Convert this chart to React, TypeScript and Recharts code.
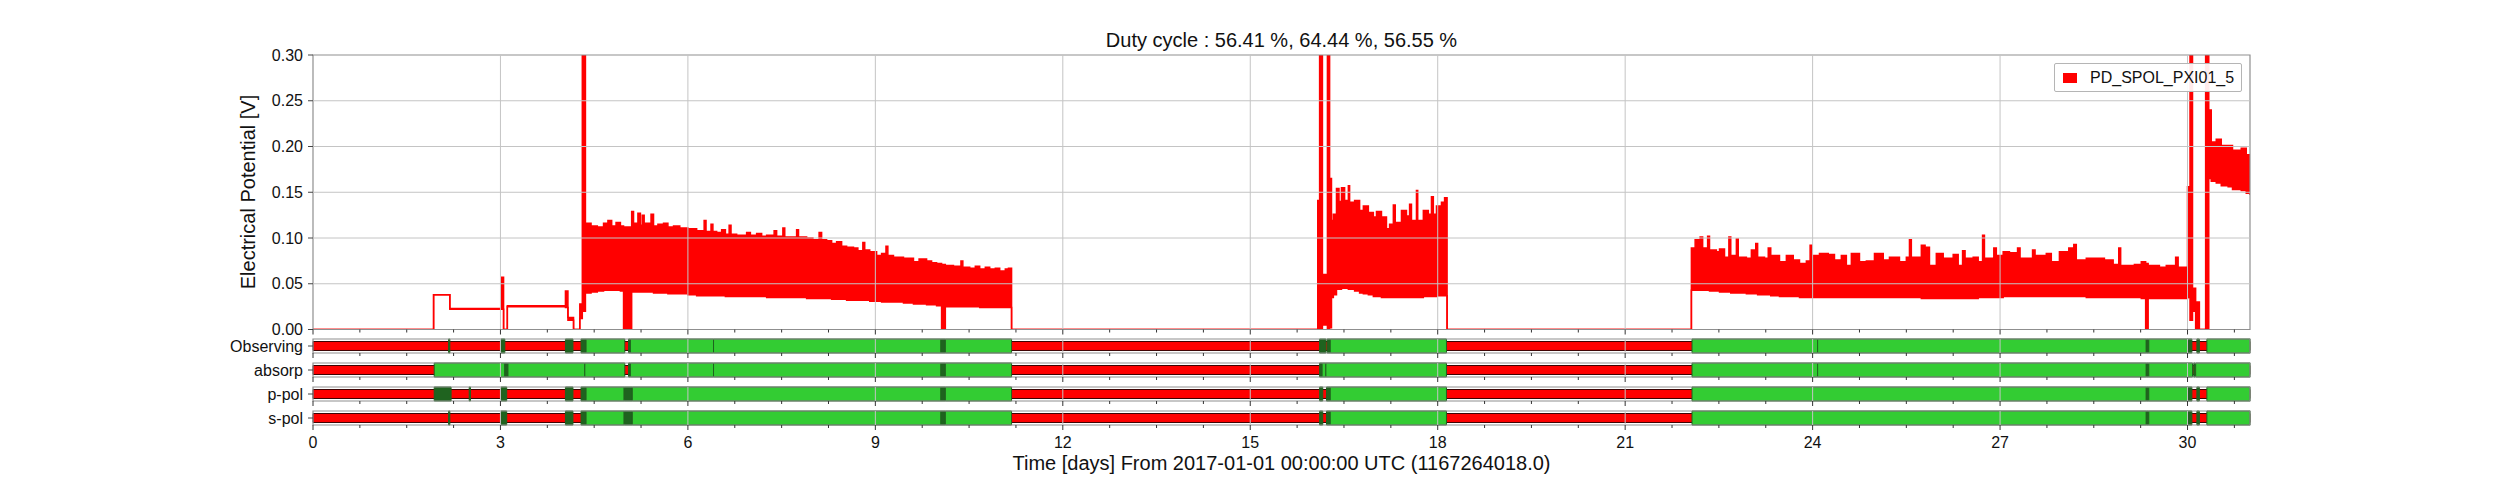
import React from "react";
import {
  Area,
  ComposedChart,
  Legend,
  Line,
  ReferenceArea,
  ReferenceLine,
  XAxis,
  YAxis,
} from "recharts";

// gwpy-style "channel + segment" summary plot: PD_SPOL_PXI01_5 over 31 days,
// with four data-quality flag rows underneath.

const FONT = '"Liberation Sans", Arial, Helvetica, sans-serif';
const RED = "#ff0000";
const GREEN = "#33cc33";
const DARK = "#1f631f";
const GRID = "#c4c4c4";
const FRAME = "#8f8f8f";

const CHANNEL = "PD_SPOL_PXI01_5";
const TITLE = "Duty cycle : 56.41 %, 64.44 %, 56.55 %";
const X_LABEL = "Time [days] From 2017-01-01 00:00:00 UTC (1167264018.0)";
const Y_LABEL = "Electrical Potential [V]";

const GRID_DAYS = [3, 6, 9, 12, 15, 18, 21, 24, 27, 30];
const V_TICKS = [0, 0.05, 0.1, 0.15, 0.2, 0.25, 0.3];
const GRID_V = [0.05, 0.1, 0.15, 0.2, 0.25];
// minor ticks every 0.75 day, major (labelled) every 3
const ALL_TICKS = Array.from({ length: 42 }, (_, i) => +(i * 0.75).toFixed(2));

// [day, low, high] — min/max envelope of the decimated signal (held until next point)
const PRE: [number, number, number][] = [
  [0, 0, 0],
  [1.93, 0.038, 0.038],
  [2.19, 0.022, 0.023],
  [3.02, 0.022, 0.057],
  [3.05, 0, 0],
  [3.11, 0.025, 0.026],
  [4.04, 0.024, 0.042],
  [4.08, 0.01, 0.013],
  [4.17, 0, 0],
  [4.27, 0.012, 0.028],
  [4.31, 0.02, 0.6],
];

const RUN1: [number, number, number][] = [
  [4.36, 0.04, 0.116], [4.45, 0.041, 0.113], [4.55, 0.042, 0.112], [4.65, 0.043, 0.116],
  [4.72, 0.043, 0.119], [4.78, 0.043, 0.113], [4.85, 0.043, 0.117], [4.92, 0.042, 0.113],
  [4.97, 0, 0.112], [5.1, 0.041, 0.129], [5.13, 0.041, 0.116], [5.2, 0.041, 0.127],
  [5.24, 0.041, 0.114], [5.27, 0.041, 0.125], [5.3, 0.041, 0.116], [5.41, 0.041, 0.126],
  [5.45, 0.04, 0.113], [5.52, 0.04, 0.115], [5.61, 0.04, 0.116], [5.68, 0.039, 0.112],
  [5.77, 0.039, 0.113], [5.87, 0.039, 0.111], [6.0, 0.038, 0.11], [6.14, 0.037, 0.108],
  [6.26, 0.037, 0.119], [6.29, 0.037, 0.107], [6.37, 0.037, 0.115], [6.4, 0.037, 0.107],
  [6.46, 0.037, 0.106], [6.54, 0.037, 0.109], [6.6, 0.036, 0.104], [6.66, 0.036, 0.114],
  [6.69, 0.036, 0.104], [6.78, 0.036, 0.103], [6.94, 0.036, 0.106], [7.0, 0.036, 0.103],
  [7.1, 0.036, 0.105], [7.18, 0.036, 0.102], [7.26, 0.035, 0.103], [7.38, 0.035, 0.108],
  [7.42, 0.035, 0.102], [7.52, 0.035, 0.111], [7.55, 0.035, 0.101], [7.63, 0.035, 0.101],
  [7.74, 0.035, 0.109], [7.77, 0.035, 0.101], [7.9, 0.034, 0.1], [8.0, 0.034, 0.098],
  [8.1, 0.034, 0.106], [8.14, 0.034, 0.098], [8.22, 0.034, 0.097], [8.3, 0.033, 0.094],
  [8.38, 0.033, 0.096], [8.46, 0.033, 0.091], [8.54, 0.032, 0.09], [8.65, 0.032, 0.089],
  [8.72, 0.032, 0.086], [8.8, 0.032, 0.095], [8.83, 0.032, 0.087], [8.91, 0.031, 0.085],
  [9.02, 0.031, 0.081], [9.1, 0.03, 0.083], [9.17, 0.03, 0.091], [9.2, 0.03, 0.081],
  [9.29, 0.03, 0.079], [9.45, 0.029, 0.078], [9.61, 0.028, 0.074], [9.7, 0.028, 0.077],
  [9.82, 0.027, 0.075], [9.9, 0.027, 0.073], [9.98, 0.026, 0.072], [10.06, 0, 0.071],
  [10.12, 0.025, 0.07], [10.25, 0.025, 0.069], [10.37, 0.025, 0.075], [10.4, 0.025, 0.068],
  [10.51, 0.025, 0.067], [10.6, 0.025, 0.069], [10.67, 0.024, 0.066], [10.76, 0.024, 0.068],
  [10.83, 0.024, 0.066], [10.92, 0.024, 0.067], [10.99, 0.024, 0.064], [11.08, 0.024, 0.066],
  [11.13, 0.024, 0.067], [11.18, 0, 0],
];

const RUN2: [number, number, number][] = [
  [16.08, 0, 0.141], [16.11, 0, 0.6], [16.155, 0.005, 0.06], [16.235, 0, 0.6],
  [16.27, 0.002, 0.165], [16.3, 0.035, 0.119], [16.33, 0.038, 0.126], [16.38, 0.044, 0.154],
  [16.42, 0.044, 0.14], [16.46, 0.045, 0.155], [16.51, 0.045, 0.141], [16.57, 0.044, 0.157],
  [16.59, 0.044, 0.139], [16.67, 0.042, 0.141], [16.75, 0.04, 0.13], [16.81, 0.039, 0.135],
  [16.89, 0.038, 0.128], [16.97, 0.036, 0.123], [17.02, 0.036, 0.129], [17.1, 0.035, 0.123],
  [17.18, 0.035, 0.11], [17.23, 0.035, 0.115], [17.29, 0.035, 0.136], [17.32, 0.035, 0.117],
  [17.42, 0.035, 0.13], [17.5, 0.035, 0.124], [17.55, 0.035, 0.137], [17.58, 0.035, 0.119],
  [17.66, 0.035, 0.152], [17.68, 0.035, 0.119], [17.77, 0.036, 0.13], [17.85, 0.036, 0.126],
  [17.9, 0.036, 0.145], [17.93, 0.036, 0.126], [17.98, 0.037, 0.135], [18.06, 0.037, 0.139],
  [18.11, 0.037, 0.144], [18.15, 0, 0],
];

const RUN3: [number, number, number][] = [
  [22.06, 0.043, 0.089], [22.12, 0.043, 0.098], [22.2, 0.043, 0.101], [22.24, 0.043, 0.089],
  [22.32, 0.043, 0.102], [22.35, 0.042, 0.087], [22.46, 0.042, 0.085], [22.51, 0.041, 0.088],
  [22.59, 0.041, 0.079], [22.66, 0.041, 0.101], [22.69, 0.04, 0.081], [22.78, 0.04, 0.099],
  [22.81, 0.04, 0.079], [22.94, 0.039, 0.078], [23.02, 0.039, 0.087], [23.09, 0.039, 0.094],
  [23.12, 0.038, 0.079], [23.23, 0.038, 0.078], [23.29, 0.038, 0.089], [23.33, 0.037, 0.081],
  [23.47, 0.036, 0.074], [23.58, 0.036, 0.081], [23.69, 0.036, 0.076], [23.79, 0.035, 0.072],
  [23.9, 0.035, 0.075], [23.96, 0.035, 0.092], [23.99, 0.035, 0.081], [24.11, 0.035, 0.083],
  [24.25, 0.035, 0.082], [24.35, 0.035, 0.076], [24.46, 0.035, 0.081], [24.54, 0.035, 0.07],
  [24.62, 0.035, 0.083], [24.75, 0.035, 0.074], [24.86, 0.035, 0.075], [24.99, 0.035, 0.083],
  [25.13, 0.035, 0.076], [25.23, 0.035, 0.079], [25.39, 0.035, 0.074], [25.5, 0.035, 0.079],
  [25.55, 0.035, 0.098], [25.58, 0.035, 0.079], [25.74, 0.034, 0.092], [25.8, 0.034, 0.09],
  [25.87, 0.034, 0.07], [25.98, 0.034, 0.083], [26.09, 0.034, 0.078], [26.25, 0.034, 0.082],
  [26.33, 0.034, 0.07], [26.4, 0.034, 0.086], [26.44, 0.034, 0.078], [26.57, 0.034, 0.079],
  [26.65, 0.035, 0.074], [26.72, 0.035, 0.103], [26.75, 0.035, 0.078], [26.9, 0.035, 0.089],
  [26.94, 0.035, 0.081], [27.05, 0.036, 0.085], [27.15, 0.036, 0.084], [27.28, 0.036, 0.089],
  [27.32, 0.036, 0.078], [27.52, 0.036, 0.087], [27.56, 0.036, 0.081], [27.74, 0.036, 0.083],
  [27.82, 0.036, 0.074], [27.95, 0.036, 0.085], [28.1, 0.036, 0.089], [28.18, 0.036, 0.093],
  [28.22, 0.036, 0.076], [28.38, 0.035, 0.078], [28.51, 0.035, 0.078], [28.67, 0.035, 0.076],
  [28.81, 0.035, 0.071], [28.9, 0.035, 0.089], [28.93, 0.035, 0.07], [29.15, 0.035, 0.071],
  [29.26, 0.034, 0.074], [29.33, 0, 0.072], [29.37, 0.034, 0.07], [29.55, 0.034, 0.068],
  [29.66, 0.034, 0.07], [29.81, 0.034, 0.079], [29.85, 0.034, 0.068], [29.98, 0.034, 0.066],
];

const TAIL: [number, number, number][] = [
  [30.0, 0.035, 0.156], [30.04, 0.01, 0.6], [30.08, 0.02, 0.045], [30.13, 0, 0.03],
  [30.19, 0, 0], [30.29, 0, 0.6], [30.34, 0.165, 0.24], [30.38, 0.162, 0.205],
  [30.46, 0.16, 0.208], [30.54, 0.157, 0.201], [30.65, 0.156, 0.201], [30.72, 0.153, 0.196],
  [30.86, 0.152, 0.198], [30.94, 0.149, 0.191], [31.0, 0.147, 0.187],
];

// segment flags: [start, end, "g" active | "k" short/dark active]
type Seg = [number, number, "g" | "k"];

const OBSERVING: Seg[] = [
  [2.17, 2.19, "k"], [3.01, 3.07, "k"], [4.04, 4.16, "k"], [4.29, 4.37, "k"],
  [4.37, 4.99, "g"], [5.05, 5.08, "k"], [5.08, 6.41, "g"], [6.41, 10.05, "g"],
  [10.05, 10.12, "k"], [10.12, 11.18, "g"], [16.11, 16.21, "k"], [16.23, 16.28, "k"],
  [16.28, 18.14, "g"], [22.07, 24.08, "g"], [24.08, 29.34, "g"], [29.34, 29.38, "k"],
  [29.38, 30.01, "g"], [30.01, 30.07, "k"], [30.15, 30.19, "k"], [30.31, 31, "g"],
];

const ABSORP: Seg[] = [
  [1.94, 3.07, "g"], [3.07, 3.12, "k"], [3.12, 4.35, "g"], [4.35, 4.99, "g"],
  [5.05, 5.08, "k"], [5.08, 6.41, "g"], [6.41, 10.05, "g"], [10.05, 10.12, "k"],
  [10.12, 11.18, "g"], [16.11, 16.15, "k"], [16.15, 16.21, "g"], [16.21, 18.14, "g"],
  [22.07, 24.08, "g"], [24.08, 29.34, "g"], [29.34, 29.38, "k"], [29.38, 30.08, "g"],
  [30.1, 30.12, "k"], [30.13, 31, "g"],
];

const P_POL: Seg[] = [
  [1.94, 2.21, "k"], [2.5, 2.52, "k"], [3.01, 3.1, "k"], [4.04, 4.16, "k"],
  [4.29, 4.37, "k"], [4.37, 4.98, "g"], [4.98, 5.11, "k"], [5.11, 10.05, "g"],
  [10.05, 10.12, "k"], [10.12, 11.18, "g"], [16.11, 16.16, "k"], [16.22, 16.28, "k"],
  [16.28, 18.14, "g"], [22.07, 29.34, "g"], [29.34, 29.38, "k"], [29.38, 30.01, "g"],
  [30.01, 30.07, "k"], [30.15, 30.19, "k"], [30.31, 31, "g"],
];

const S_POL: Seg[] = [
  [2.17, 2.19, "k"], [3.01, 3.1, "k"], [4.04, 4.16, "k"], [4.29, 4.37, "k"],
  [4.37, 4.98, "g"], [4.98, 5.11, "k"], [5.11, 10.05, "g"], [10.05, 10.12, "k"],
  [10.12, 11.18, "g"], [16.11, 16.16, "k"], [16.22, 16.28, "k"], [16.28, 18.14, "g"],
  [22.07, 29.34, "g"], [29.34, 29.38, "k"], [29.38, 30.01, "g"], [30.01, 30.07, "k"],
  [30.15, 30.19, "k"], [30.31, 31, "g"],
];

const series = [...PRE, ...RUN1, ...RUN2, ...RUN3, ...TAIL].map(([t, lo, hi]) => ({
  t,
  v: [lo, hi],
}));

function DayTick(props: any) {
  const { x, y, payload, showLabel } = props;
  const v = Number(payload.value);
  const major = Math.abs(v / 3 - Math.round(v / 3)) < 1e-6;
  return (
    <g>
      <line x1={x} x2={x} y1={y} y2={y + (major ? 5 : 3)} stroke="#333" strokeWidth={1} />
      {showLabel && major ? (
        <text
          x={x}
          y={y + 17}
          textAnchor="middle"
          dominantBaseline="central"
          fontSize={16}
          fill="#111"
          fontFamily={FONT}
        >
          {v}
        </text>
      ) : null}
    </g>
  );
}

function LegendBox({ payload }: any) {
  const item = payload?.[0];
  return (
    <div
      style={{
        boxSizing: "border-box",
        width: 188,
        height: 29,
        border: "1px solid #b5b5b5",
        borderRadius: 2,
        background: "rgba(255,255,255,0.92)",
        display: "flex",
        alignItems: "center",
        paddingLeft: 8,
        fontFamily: FONT,
        fontSize: 16,
        color: "#111",
      }}
    >
      <span style={{ width: 14, height: 10, background: item?.color ?? RED, marginRight: 13 }} />
      <span>{item?.value ?? CHANNEL}</span>
    </div>
  );
}

// an invisible series spanning the row so the axes get their domains
const ROW_SPAN = [
  { t: 0, y: 0 },
  { t: 31, y: 1 },
];

function SegRow({ name, segs, top, last }: { name: string; segs: Seg[]; top: number; last?: boolean }) {
  return (
    <div style={{ position: "absolute", left: 0, top: top - 1 }}>
      <ComposedChart
        width={2500}
        height={last ? 52 : 25}
        data={ROW_SPAN}
        margin={{ top: 1, right: 250, bottom: 0, left: 233 }}
      >
        <XAxis
          dataKey="t"
          type="number"
          domain={[0, 31]}
          allowDataOverflow
          ticks={ALL_TICKS}
          interval={0}
          tickSize={0}
          tickMargin={0}
          axisLine={false}
          tickLine={false}
          height={last ? 37 : 10}
          tick={(p: any) => <DayTick {...p} showLabel={!!last} />}
        />
        <YAxis
          type="number"
          domain={[0, 1]}
          allowDataOverflow
          ticks={[0.5]}
          interval={0}
          width={80}
          tickSize={5}
          tickMargin={5}
          axisLine={false}
          tickLine={{ stroke: "#444" }}
          tick={{ fontSize: 16, fill: "#111", fontFamily: FONT }}
          tickFormatter={() => name}
        />
        <Line
          dataKey="y"
          stroke="none"
          dot={false}
          activeDot={false}
          legendType="none"
          isAnimationActive={false}
        />
        <ReferenceArea x1={0} x2={31} y1={0.18} y2={0.82} fill={RED} fillOpacity={1} stroke="#3a0000" strokeWidth={1} />
        {segs.map(([a, b, k], i) => (
          <ReferenceArea
            key={i}
            x1={a}
            x2={b}
            y1={0}
            y2={1}
            fill={k === "k" ? DARK : GREEN}
            fillOpacity={1}
            stroke={DARK}
            strokeWidth={1}
          />
        ))}
        {GRID_DAYS.map((d) => (
          <ReferenceLine key={d} x={d} stroke={GRID} strokeWidth={1} />
        ))}
        <ReferenceArea x1={0} x2={31} y1={0} y2={1} fill="none" stroke={FRAME} strokeWidth={1.2} />
      </ComposedChart>
    </div>
  );
}

export default function App() {
  return (
    <div
      style={{
        position: "absolute",
        left: 0,
        top: 0,
        width: 2500,
        height: 500,
        background: "#fff",
        fontFamily: FONT,
        color: "#111",
      }}
    >
      <div
        style={{
          position: "absolute",
          left: 1281.5,
          top: 40,
          transform: "translate(-50%, -50%)",
          whiteSpace: "nowrap",
          fontSize: 20,
        }}
      >
        {TITLE}
      </div>
      <div
        style={{
          position: "absolute",
          left: 248,
          top: 192.4,
          transform: "translate(-50%, -50%) rotate(-90deg)",
          whiteSpace: "nowrap",
          fontSize: 20,
        }}
      >
        {Y_LABEL}
      </div>
      <div style={{ position: "absolute", left: 0, top: 0 }}>
        <ComposedChart width={2500} height={340} data={series} margin={{ top: 55, right: 250, bottom: 0, left: 233 }}>
          <XAxis
            dataKey="t"
            type="number"
            domain={[0, 31]}
            allowDataOverflow
            ticks={ALL_TICKS}
            interval={0}
            tickSize={0}
            tickMargin={0}
            axisLine={false}
            tickLine={false}
            height={10.5}
            tick={(p: any) => <DayTick {...p} showLabel={false} />}
          />
          <YAxis
            type="number"
            domain={[0, 0.3]}
            allowDataOverflow
            ticks={V_TICKS}
            interval={0}
            width={80}
            tickSize={5}
            tickMargin={5}
            axisLine={false}
            tickLine={{ stroke: "#444" }}
            tick={{ fontSize: 16, fill: "#111", fontFamily: FONT }}
            tickFormatter={(v: number) => v.toFixed(2)}
          />
          <Area
            type="stepAfter"
            dataKey="v"
            name={CHANNEL}
            stroke={RED}
            strokeWidth={1.5}
            fill={RED}
            fillOpacity={1}
            dot={false}
            activeDot={false}
            legendType="rect"
            isAnimationActive={false}
          />
          {GRID_DAYS.map((d) => (
            <ReferenceLine key={`x${d}`} x={d} stroke={GRID} strokeWidth={1} />
          ))}
          {GRID_V.map((v) => (
            <ReferenceLine key={`y${v}`} y={v} stroke={GRID} strokeWidth={1} />
          ))}
          <ReferenceArea x1={0} x2={31} y1={0} y2={0.3} fill="none" stroke={FRAME} strokeWidth={1.2} />
          <Legend
            layout="vertical"
            align="center"
            verticalAlign="middle"
            wrapperStyle={{ top: 63, left: 2054, width: 188 }}
            content={(p: any) => <LegendBox {...p} />}
          />
        </ComposedChart>
      </div>
      <SegRow name="Observing" segs={OBSERVING} top={339.3} />
      <SegRow name="absorp" segs={ABSORP} top={363.3} />
      <SegRow name="p-pol" segs={P_POL} top={387.3} />
      <SegRow name="s-pol" segs={S_POL} top={411.3} last />
      <div
        style={{
          position: "absolute",
          left: 1281.5,
          top: 463.3,
          transform: "translate(-50%, -50%)",
          whiteSpace: "nowrap",
          fontSize: 20,
        }}
      >
        {X_LABEL}
      </div>
    </div>
  );
}
